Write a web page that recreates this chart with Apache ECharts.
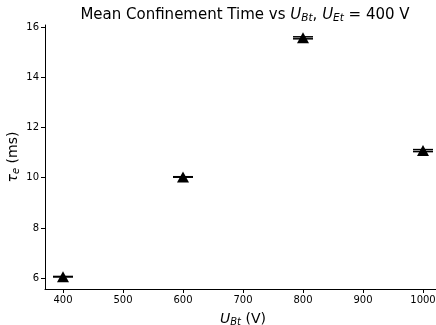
<!DOCTYPE html>
<html>
<head>
<meta charset="utf-8">
<script src="https://cdn.jsdelivr.net/npm/echarts@6/dist/echarts.min.js"></script>
<style>
  html, body { margin: 0; padding: 0; background: #fff; }
  #chart { width: 436px; height: 325px; }
</style>
</head>
<body>
<div id="chart"></div>
<script>
// values
var voltages = [400, 600, 800, 1000];
var tauMean = [6.06, 10.03, 15.57, 11.08];
var tauErr = [0.01, 0.01, 0.04, 0.04];
var xTicks = [400, 500, 600, 700, 800, 900, 1000];
var yTicks = [6, 8, 10, 12, 14, 16];

var font = 'DejaVu Sans';

var pointData = [];
var errData = [];
for (var i = 0; i < voltages.length; i++) {
    pointData.push([voltages[i], tauMean[i]]);
    errData.push([voltages[i], tauMean[i] - tauErr[i], tauMean[i] + tauErr[i]]);
}

function renderErr(params, api) {
    var lo = api.coord([api.value(0), api.value(1)]);
    var hi = api.coord([api.value(0), api.value(2)]);
    var half = 10;
    var style = { stroke: '#000', lineWidth: 1.5 };
    return {
        type: 'group',
        children: [
            { type: 'line', shape: { x1: lo[0], y1: lo[1], x2: hi[0], y2: hi[1] }, style: style },
            { type: 'line', shape: { x1: lo[0] - half, y1: lo[1], x2: lo[0] + half, y2: lo[1] }, style: style },
            { type: 'line', shape: { x1: hi[0] - half, y1: hi[1], x2: hi[0] + half, y2: hi[1] }, style: style }
        ]
    };
}

var myChart = echarts.init(document.getElementById('chart'), null, { renderer: 'canvas' });

var option = {
    animation: false,
    backgroundColor: '#fff',
    title: {
        text: 'Mean Confinement Time vs {i|U}{sub|Bt}, {i|U}{sub|Et} = 400 V',
        left: 240,
        textAlign: 'center',
        top: 2,
        textStyle: {
            fontFamily: font,
            fontSize: 15,
            fontWeight: 'normal',
            color: '#000',
            rich: {
                i: { fontFamily: font, fontSize: 15, fontStyle: 'italic', color: '#000' },
                sub: { fontFamily: font, fontSize: 10.5, fontStyle: 'italic', color: '#000', verticalAlign: 'bottom', padding: [6, 0, 0, 0] }
            }
        }
    },
    grid: {
        left: 45,
        top: 25,
        right: -5,
        bottom: 36,
        outerBoundsMode: 'none',
        containLabel: false
    },
    xAxis: {
        type: 'value',
        min: 370,
        max: 1030,
        name: '{i|U}{sub|Bt} (V)',
        nameLocation: 'middle',
        nameGap: 22,
        nameMoveOverlap: false,
        nameTextStyle: {
            fontFamily: font,
            fontSize: 14,
            color: '#000',
            rich: {
                i: { fontFamily: font, fontSize: 14, fontStyle: 'italic', color: '#000' },
                sub: { fontFamily: font, fontSize: 10, fontStyle: 'italic', color: '#000', verticalAlign: 'bottom', padding: [6, 0, 0, 0] }
            }
        },
        axisLine: { show: true, onZero: false, lineStyle: { color: '#000', width: 1 } },
        axisTick: { show: true, length: 4, customValues: xTicks, lineStyle: { color: '#000' } },
        axisLabel: {
            customValues: xTicks,
            formatter: function (v) { return String(v); },
            fontFamily: font, fontSize: 10, color: '#000', margin: 6
        },
        splitLine: { show: false }
    },
    yAxis: {
        type: 'value',
        min: 5.57,
        max: 16.08,
        name: '{i|τ}{sub|e} (ms)',
        nameLocation: 'middle',
        nameGap: 24,
        nameRotate: 90,
        nameMoveOverlap: false,
        nameTextStyle: {
            fontFamily: font,
            fontSize: 14,
            color: '#000',
            rich: {
                i: { fontFamily: font, fontSize: 14, fontStyle: 'italic', color: '#000' },
                sub: { fontFamily: font, fontSize: 10, fontStyle: 'italic', color: '#000', verticalAlign: 'bottom', padding: [6, 0, 0, 0] }
            }
        },
        axisLine: { show: true, onZero: false, lineStyle: { color: '#000', width: 1 } },
        axisTick: { show: true, length: 4, customValues: yTicks, lineStyle: { color: '#000' } },
        axisLabel: { customValues: yTicks, fontFamily: font, fontSize: 10, color: '#000', margin: 6 },
        splitLine: { show: false }
    },
    series: [
        {
            type: 'custom',
            renderItem: renderErr,
            data: errData,
            encode: { x: 0, y: [1, 2] },
            z: 2
        },
        {
            type: 'scatter',
            symbol: 'triangle',
            symbolSize: [12, 11],
            itemStyle: { color: '#000', opacity: 1 },
            data: pointData,
            z: 3
        }
    ]
};

myChart.setOption(option);
</script>
</body>
</html>
